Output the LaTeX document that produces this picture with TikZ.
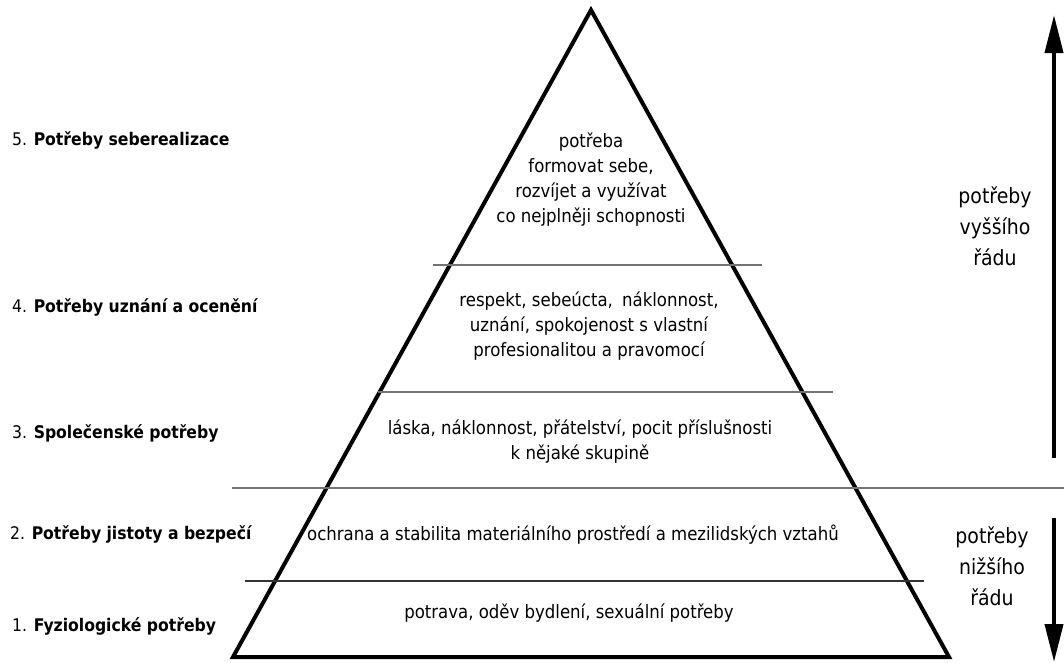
\documentclass[tikz,border=0pt]{standalone}
\usepackage{fontspec}
\setmainfont{DejaVu Sans Condensed}
\usetikzlibrary{arrows.meta}

\tikzset{
    popis/.style={font=\fontsize{18.4}{25}\selectfont, align=center, inner sep=0pt},
    uroven/.style={font=\fontsize{17.4}{20}\selectfont, anchor=west, inner sep=0pt},
    rad/.style={font=\fontsize{21}{31}\selectfont, align=center, inner sep=0pt},
    hrana/.style={line width=4pt, line join=miter},
    cara/.style={line width=2pt, black!55},
    sipka/.style={line width=4pt, -{Triangle[width=18pt,length=38pt]}}
}

\begin{document}
\begin{tikzpicture}[x=1pt, y=-1pt]
    \useasboundingbox (0,0) rectangle (1064,662);
    % pyramida
    \path coordinate (A) at (591,10)
          coordinate (L) at (233,657)
          coordinate (R) at (949,657);
    \draw[hrana] (A) -- (L) -- (R) -- cycle;

    % delici cary
    \path coordinate (c1a) at (433,265) coordinate (c1b) at (762,265)
          coordinate (c2a) at (378,392) coordinate (c2b) at (833,392)
          coordinate (c3a) at (232,488) coordinate (c3b) at (1064,488)
          coordinate (c4a) at (245,581) coordinate (c4b) at (924,581);
    \draw[cara] (c1a) -- (c1b);
    \draw[cara] (c2a) -- (c2b);
    \draw[cara] (c3a) -- (c3b);
    \draw[line width=1.5pt, black!80] (c4a) -- (c4b);

    % obsah stupnu
    \path node[popis] (t5) at (591,180) {potřeba\\formovat sebe,\\rozvíjet a využívat\\co nejplněji schopnosti}
          node[popis] (t4) at (589,326) {respekt, sebeúcta,\enspace náklonnost,\\uznání, spokojenost s vlastní\\profesionalitou a pravomocí}
          node[popis] (t3) at (580,442) {láska, náklonnost, přátelství, pocit příslušnosti\\k nějaké skupině}
          node[popis] (t2) at (573,535) {ochrana a stabilita materiálního prostředí a mezilidských vztahů}
          node[popis] (t1) at (569,613) {potrava, oděv bydlení, sexuální potřeby};

    % nazvy urovni
    \path node[uroven] (u5) at (12,140) {5. \textbf{Potřeby seberealizace}}
          node[uroven] (u4) at (12,307) {4. \textbf{Potřeby uznání a ocenění}}
          node[uroven] (u3) at (12,433) {3. \textbf{Společenské potřeby}}
          node[uroven] (u2) at (10,534) {2. \textbf{Potřeby jistoty a bezpečí}}
          node[uroven] (u1) at (12,626) {1. \textbf{Fyziologické potřeby}};

    % vyssi a nizsi rad
    \path node[rad] (vyssi) at (995,226) {potřeby\\vyššího\\řádu}
          node[rad] (nizsi) at (992,566) {potřeby\\nižšího\\řádu};
    \path coordinate (s1) at (1054,458) coordinate (s2) at (1054,15)
          coordinate (s3) at (1054,518) coordinate (s4) at (1054,662);
    \draw[sipka] (s1) -- (s2);
    \draw[sipka] (s3) -- (s4);
\end{tikzpicture}
\end{document}
